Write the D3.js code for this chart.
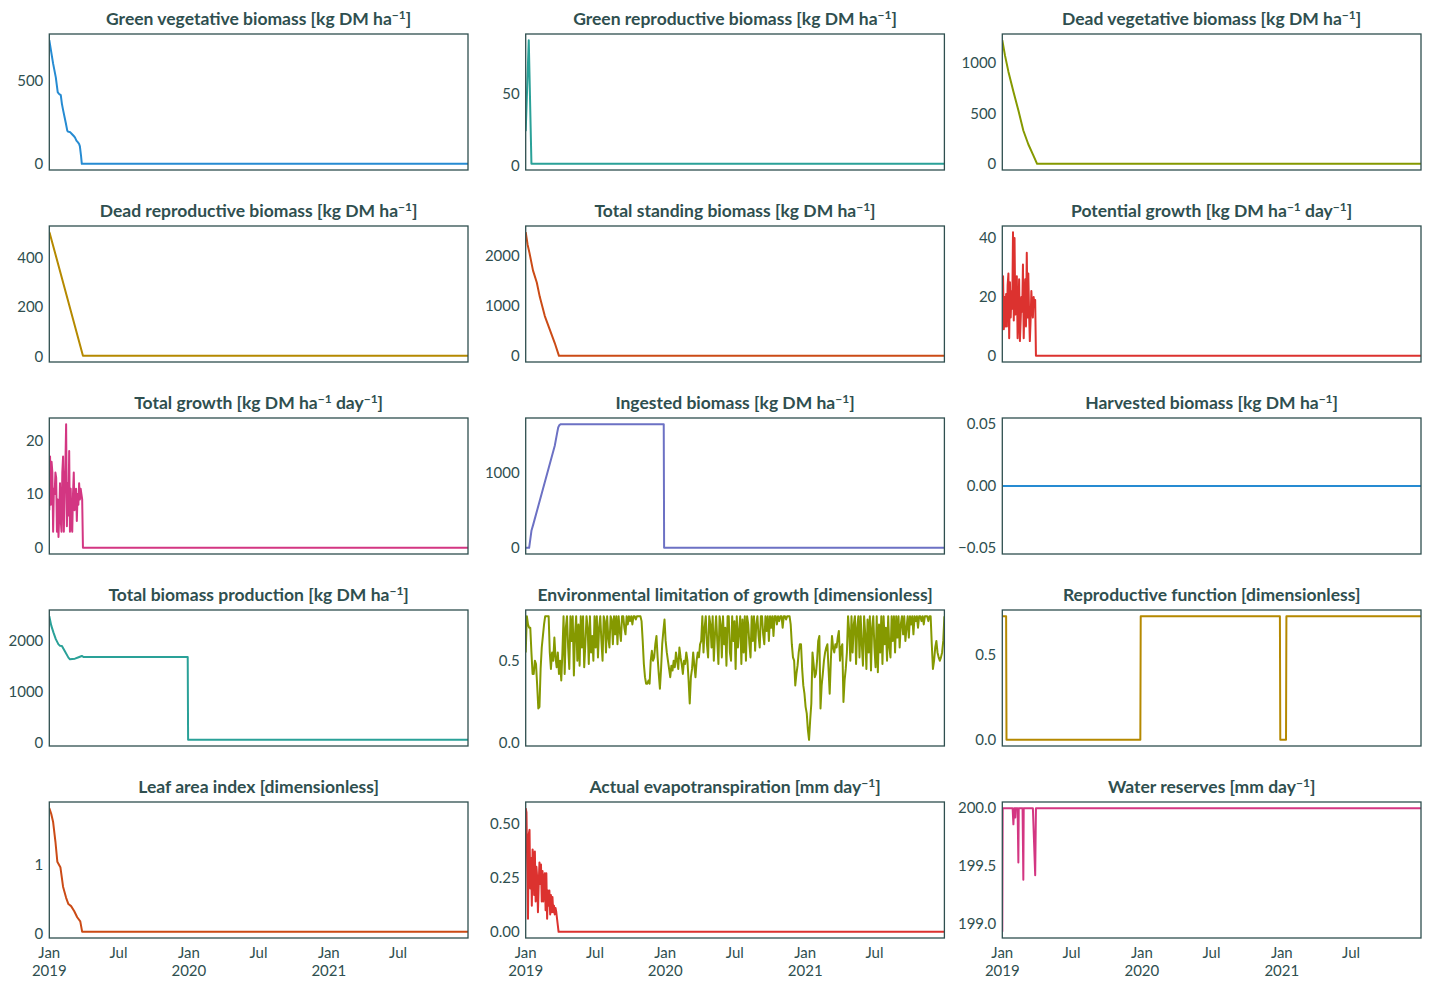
<!DOCTYPE html>
<html lang="en">
<head>
<meta charset="utf-8">
<title>Grassland model outputs</title>
<style>
  body { margin: 0; background: #fff; }
  svg text { font-family: Lato, "Open Sans", sans-serif; fill: #2f4f4f; }
</style>
</head>
<body>
<svg id="chart" width="1430" height="990"></svg>
<script src="https://cdn.jsdelivr.net/npm/d3@7"></script>
<script>

// ---- data (day offsets from 2019-01-01) ----
var startDay = "2019-01-01", lastDay = 1095;

var titles = [
  "Green vegetative biomass [kg DM ha^−1]",
  "Green reproductive biomass [kg DM ha^−1]",
  "Dead vegetative biomass [kg DM ha^−1]",
  "Dead reproductive biomass [kg DM ha^−1]",
  "Total standing biomass [kg DM ha^−1]",
  "Potential growth [kg DM ha^−1 day^−1]",
  "Total growth [kg DM ha^−1 day^−1]",
  "Ingested biomass [kg DM ha^−1]",
  "Harvested biomass [kg DM ha^−1]",
  "Total biomass production [kg DM ha^−1]",
  "Environmental limitation of growth [dimensionless]",
  "Reproductive function [dimensionless]",
  "Leaf area index [dimensionless]",
  "Actual evapotranspiration [mm day^−1]",
  "Water reserves [mm day^−1]"
];

var colors = ["#268bd2", "#2aa198", "#859900", "#b58900", "#cb4b16", "#dc322f", "#d33682", "#6c71c4",
              "#268bd2", "#2aa198", "#859900", "#b58900", "#cb4b16", "#dc322f", "#d33682"];

var yTicks = [[0, 500], [0, 50], [0, 500, 1000], [0, 200, 400], [0, 1000, 2000], [0, 20, 40],
              [0, 10, 20], [0, 1000], [-0.05, 0, 0.05], [0, 1000, 2000], [0, 0.5], [0, 0.5],
              [0, 1], [0, 0.25, 0.5], [199, 199.5, 200]];
var yTickLabels = [["0", "500"], ["0", "50"], ["0", "500", "1000"], ["0", "200", "400"],
                   ["0", "1000", "2000"], ["0", "20", "40"], ["0", "10", "20"], ["0", "1000"],
                   ["−0.05", "0.00", "0.05"], ["0", "1000", "2000"], ["0.0", "0.5"], ["0.0", "0.5"],
                   ["0", "1"], ["0.00", "0.25", "0.50"], ["199.0", "199.5", "200.0"]];

var xTickDates = ["2019-01-01", "2019-07-01", "2020-01-01", "2020-07-01", "2021-01-01", "2021-07-01"];
var xTickLabels = [["Jan", "2019"], ["Jul"], ["Jan", "2020"], ["Jul"], ["Jan", "2021"], ["Jul"]];

// [day, value] vertices
var greenVeg = [[0,740],[10,600],[17,518],[22,430],[25,420],[30,412],[33,360],[36,324],[40,280],[43,247],
  [47,200],[49,194],[55,190],[59,180],[64,168],[67,160],[71,140],[75,130],[78,120],[80,106],[83,50],[85,2],[1095,2]];
var greenRep = [[0,24],[8,88],[15,1],[1095,1]];
var deadVeg = [[0,1220],[7,1070],[16,910],[29,715],[42,530],[55,330],[68,195],[80,95],[91,2],[1095,2]];
var deadRep = [[0,505],[2,496],[88,2],[1095,2]];
var totalStanding = [[0,2480],[5,2230],[10,2060],[19,1715],[29,1473],[37,1180],[50,800],[63,530],[76,260],[87,4],[1095,4]];
var ingested = [[0,0],[9,0],[15,227],[20,317],[76,1364],[82,1530],[85,1609],[88,1640],[92,1653],[361,1653],[362,0],[1095,0]];
var harvested = [[0,0],[1095,0]];
var totalProduction = [[0,2480],[5,2300],[11,2157],[17,2030],[24,1927],[28,1900],[33,1895],[40,1800],[50,1667],
  [54,1634],[60,1640],[67,1647],[75,1670],[85,1700],[90,1678],[362,1678],[363,55],[1095,55]];
var reproFunction = [[0,0.73],[10,0.73],[11,0],[361,0],[362,0.73],[726,0.73],[727,0],[742,0],[743,0.73],[1095,0.73]];
var leafArea = [[0,1.81],[5,1.73],[10,1.61],[16,1.33],[21,1.04],[29,0.96],[36,0.68],[44,0.52],[50,0.43],[57,0.40],
  [65,0.33],[73,0.24],[81,0.18],[86,0.03],[1095,0.03]];
var waterReserves = [[0,198.93],[1,200],[27,200],[29,199.86],[31,200],[33,200],[34,199.92],[35,200],[40,200],[42,199.53],
  [43,200],[53,200],[55,199.38],[56,200],[80,200],[86,199.42],[88,200],[1095,200]];

// every 2nd day over the first weeks, then flat
var potentialGrowth = [20,27,9,20,10,21,10,24,28,6, 25,13,22,16,42,12,40,14,18,27, 6,14,26,5,12,20,15,31,6,18,
  26,10,35,13,28,15,5,12,22,16, 13,20,17,19,0];
var totalGrowth = [7,17,8,16,14,3,11,10,14,13, 3,9,2,6,12,5,3,14,17,3, 10,15,23,4,12,6,18,3,11,4,
  3,10,14,7,8,11,5,10,8,12, 9,11,10,9,0];
var evapotranspiration = [0.57,0.55,0.30,0.06,0.45,0.47,0.20,0.34,0.12,0.38, 0.35,0.17,0.37,0.14,0.30,0.25,0.09,0.22,0.32,0.22,
  0.31,0.14,0.28,0.14,0.25,0.27,0.10,0.27,0.06,0.19, 0.12,0.19,0.08,0.17,0.09,0.16,0.09,0.12,0.08,0.11,
  0.09,0.06,0.03,0.0];

// every 3rd day, whole period (one row = 30 days)
var envLimitation = [
  0.55,0.77,0.72,0.70,0.70,0.55,0.42,0.42,0.50,0.48,
  0.35,0.21,0.22,0.45,0.58,0.65,0.72,0.77,0.77,0.77,
  0.77,0.55,0.45,0.55,0.50,0.64,0.52,0.46,0.55,0.42,
  0.50,0.38,0.55,0.77,0.42,0.70,0.77,0.58,0.45,0.77,
  0.62,0.77,0.41,0.66,0.77,0.50,0.72,0.47,0.77,0.58,
  0.77,0.46,0.60,0.77,0.70,0.48,0.77,0.55,0.65,0.50,
  0.77,0.58,0.77,0.52,0.70,0.77,0.62,0.50,0.77,0.74,
  0.55,0.77,0.64,0.58,0.77,0.75,0.60,0.77,0.66,0.77,
  0.60,0.77,0.68,0.62,0.77,0.77,0.70,0.66,0.77,0.72,
  0.77,0.74,0.77,0.72,0.77,0.77,0.75,0.77,0.77,0.77,
  0.77,0.74,0.62,0.48,0.40,0.36,0.36,0.38,0.36,0.50,
  0.56,0.50,0.52,0.60,0.65,0.52,0.42,0.33,0.45,0.60,
  0.68,0.75,0.62,0.55,0.50,0.45,0.40,0.47,0.44,0.50,
  0.46,0.55,0.50,0.45,0.58,0.52,0.48,0.42,0.50,0.48,
  0.55,0.50,0.38,0.24,0.40,0.45,0.55,0.47,0.40,0.50,
  0.55,0.52,0.60,0.62,0.77,0.55,0.70,0.77,0.60,0.52,
  0.77,0.72,0.58,0.77,0.50,0.66,0.77,0.62,0.48,0.77,
  0.72,0.52,0.77,0.60,0.70,0.47,0.77,0.77,0.55,0.50,
  0.77,0.62,0.74,0.45,0.77,0.58,0.68,0.77,0.48,0.75,
  0.55,0.77,0.50,0.77,0.72,0.60,0.52,0.77,0.62,0.77,
  0.56,0.72,0.77,0.65,0.58,0.77,0.77,0.66,0.60,0.77,
  0.68,0.77,0.62,0.77,0.70,0.77,0.65,0.77,0.77,0.72,
  0.77,0.74,0.77,0.77,0.70,0.77,0.77,0.75,0.77,0.77,
  0.77,0.72,0.60,0.52,0.50,0.35,0.42,0.47,0.55,0.60,
  0.60,0.45,0.35,0.30,0.22,0.18,0.08,0.02,0.14,0.24,
  0.55,0.48,0.40,0.42,0.50,0.62,0.65,0.21,0.35,0.42,
  0.50,0.55,0.58,0.60,0.45,0.30,0.50,0.65,0.58,0.55,
  0.60,0.58,0.64,0.68,0.50,0.58,0.60,0.25,0.38,0.45,
  0.55,0.77,0.68,0.50,0.77,0.55,0.72,0.77,0.48,0.70,
  0.77,0.52,0.77,0.60,0.47,0.77,0.66,0.45,0.75,0.55,
  0.77,0.44,0.70,0.77,0.58,0.46,0.77,0.43,0.72,0.55,
  0.77,0.48,0.77,0.60,0.70,0.50,0.77,0.58,0.52,0.77,
  0.62,0.77,0.55,0.77,0.64,0.77,0.58,0.72,0.77,0.66,
  0.77,0.62,0.70,0.77,0.64,0.77,0.72,0.77,0.66,0.77,
  0.74,0.77,0.70,0.77,0.77,0.74,0.77,0.72,0.77,0.77,
  0.77,0.74,0.77,0.77,0.60,0.45,0.50,0.58,0.62,0.55,
  0.52,0.50,0.52,0.55,0.62,0.77
];

// ---- helpers ----
var parseDate = d3.timeParse("%Y-%m-%d");
var day0 = parseDate(startDay);

function fromPairs(pairs) {
  return pairs.map(function (p) { return { date: d3.timeDay.offset(day0, p[0]), value: p[1] }; });
}
// regular-step values, held flat to the end at the last value
function fromSteps(values, step) {
  var pts = values.map(function (v, i) { return { date: d3.timeDay.offset(day0, i * step), value: v }; });
  var lastIdx = (values.length - 1) * step;
  if (lastIdx < lastDay) pts.push({ date: d3.timeDay.offset(day0, lastDay), value: values[values.length - 1] });
  return pts;
}

var series = [
  fromPairs(greenVeg), fromPairs(greenRep), fromPairs(deadVeg),
  fromPairs(deadRep), fromPairs(totalStanding), fromSteps(potentialGrowth, 2),
  fromSteps(totalGrowth, 2), fromPairs(ingested), fromPairs(harvested),
  fromPairs(totalProduction), fromSteps(envLimitation, 3), fromPairs(reproFunction),
  fromPairs(leafArea), fromSteps(evapotranspiration, 2), fromPairs(waterReserves)
];

// ---- layout ----
var svg = d3.select("#chart");
var ink = "#2f4f4f";
var colLeft = [49.3, 525.7, 1002.3], plotW = 418.7;
var rowTop = [34, 226, 418, 610, 802], plotH = 136;

var x = d3.scaleTime()
    .domain([day0, d3.timeDay.offset(day0, lastDay)])
    .range([0, plotW]);

series.forEach(function (data, i) {
  var col = i % 3, row = Math.floor(i / 3);
  var g = svg.append("g").attr("transform", "translate(" + colLeft[col] + "," + rowTop[row] + ")");

  // matplotlib-style autoscale with 5% margins
  var ext = d3.extent(data, function (d) { return d.value; });
  if (ext[0] === ext[1]) { ext = [ext[0] - 0.05, ext[1] + 0.05]; }
  var pad = (ext[1] - ext[0]) * 0.05;
  var y = d3.scaleLinear().domain([ext[0] - pad, ext[1] + pad]).range([plotH, 0]);

  g.append("clipPath").attr("id", "clip" + i)
    .append("rect").attr("width", plotW).attr("height", plotH);

  var line = d3.line()
      .x(function (d) { return x(d.date); })
      .y(function (d) { return y(d.value); });

  g.append("path")
    .datum(data)
    .attr("clip-path", "url(#clip" + i + ")")
    .attr("fill", "none")
    .attr("stroke", colors[i])
    .attr("stroke-width", 2)
    .attr("stroke-linejoin", "round")
    .attr("d", line);

  // frame
  g.append("rect")
    .attr("width", plotW).attr("height", plotH)
    .attr("fill", "none").attr("stroke", ink).attr("stroke-width", 1.3);

  // y ticks (labels only)
  var yAxis = d3.axisLeft(y)
      .tickValues(yTicks[i])
      .tickSize(0).tickPadding(6)
      .tickFormat(function (d, k) { return yTickLabels[i][k]; });
  var ya = g.append("g").call(yAxis);
  ya.select(".domain").remove();
  ya.selectAll("text").attr("fill", ink).style("font-size", "15px").style("font-family", null);

  // title with superscripts
  var t = g.append("text")
      .attr("x", plotW / 2).attr("y", -9)
      .attr("text-anchor", "middle")
      .style("font-size", "17.5px").style("font-weight", 700);
  var parts = titles[i].split(/\^(−1)/);
  parts.forEach(function (p, k) {
    if (k % 2 === 1) {
      t.append("tspan").attr("dy", -6).style("font-size", "12px").text(p);
    } else if (p.length) {
      var s = t.append("tspan").text(p);
      if (k > 0) s.attr("dy", 6);
    }
  });

  // x labels on the bottom row only
  if (row === 4) {
    xTickDates.forEach(function (ds, k) {
      var lab = g.append("text")
          .attr("x", x(parseDate(ds)))
          .attr("y", plotH + 20)
          .attr("text-anchor", "middle")
          .style("font-size", "15px");
      xTickLabels[k].forEach(function (line, j) {
        lab.append("tspan").attr("x", x(parseDate(ds))).attr("dy", j === 0 ? 0 : 18).text(line);
      });
    });
  }
});
</script>
</body>
</html>
